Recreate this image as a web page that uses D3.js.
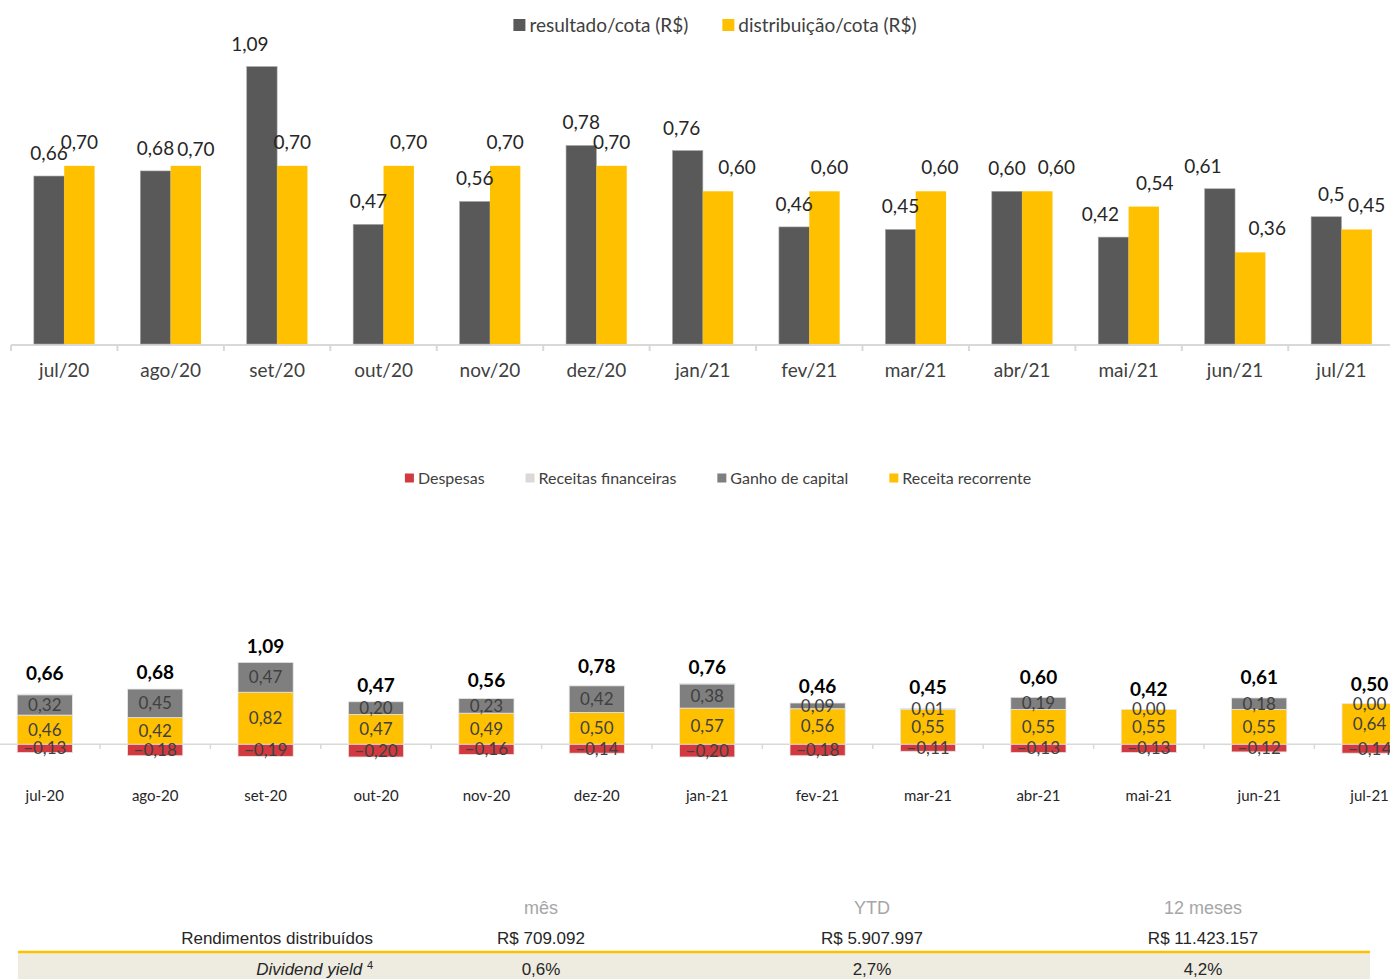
<!DOCTYPE html>
<html>
<head>
<meta charset="utf-8">
<script src="https://cdn.jsdelivr.net/npm/d3@7"></script>
<style>
  body { margin: 0; background: #fff; }
  svg { display: block; }
</style>
</head>
<body>
<svg id="chart" width="1390" height="979"></svg>
<script>
'use strict';

// ---- dados: resultado x distribuicao ----
var meses = ["jul/20", "ago/20", "set/20", "out/20", "nov/20", "dez/20", "jan/21",
             "fev/21", "mar/21", "abr/21", "mai/21", "jun/21", "jul/21"];
var resultadoCota = [0.66, 0.68, 1.09, 0.47, 0.56, 0.78, 0.76, 0.46, 0.45, 0.60, 0.42, 0.61, 0.50];
var resultadoTexto = ["0,66", "0,68", "1,09", "0,47", "0,56", "0,78", "0,76", "0,46", "0,45", "0,60", "0,42", "0,61", "0,5"];
var distribuicaoCota = [0.70, 0.70, 0.70, 0.70, 0.70, 0.70, 0.60, 0.60, 0.60, 0.60, 0.54, 0.36, 0.45];

// ---- dados: composicao do resultado ----
var mesesComp = ["jul-20", "ago-20", "set-20", "out-20", "nov-20", "dez-20", "jan-21",
                 "fev-21", "mar-21", "abr-21", "mai-21", "jun-21", "jul-21"];
var despesas = [-0.13, -0.18, -0.19, -0.20, -0.16, -0.14, -0.20, -0.18, -0.11, -0.13, -0.13, -0.12, -0.14];
var receitasFinanceiras = [0.01, 0, 0, 0, 0, 0, 0.01, 0, 0, 0, 0, 0, 0];
var ganhoCapital = [0.32, 0.45, 0.47, 0.20, 0.23, 0.42, 0.38, 0.09, 0.01, 0.19, 0.00, 0.18, 0.00];
var receitaRecorrente = [0.46, 0.42, 0.82, 0.47, 0.49, 0.50, 0.57, 0.56, 0.55, 0.55, 0.55, 0.55, 0.64];
var totalMes = [0.66, 0.68, 1.09, 0.47, 0.56, 0.78, 0.76, 0.46, 0.45, 0.60, 0.42, 0.61, 0.50];

// ---- tabela ----
var colunasTabela = ["mês", "YTD", "12 meses"];
var rendimentos = ["R$ 709.092", "R$ 5.907.997", "R$ 11.423.157"];
var dividendYield = ["0,6%", "2,7%", "4,2%"];

var svg = d3.select("#chart");
var fmt = function (v) { return d3.format(".2f")(v).replace(".", ","); };
var gill = "Lato, 'Open Sans', sans-serif";

// ================= grafico 1 =================
var x = d3.scaleBand().domain(meses).range([11, 1394.7]).paddingInner(0).paddingOuter(0);
var x1 = d3.scaleBand().domain(["resultado", "distribuicao"])
    .range([0, x.bandwidth()]).paddingInner(0).paddingOuter(0.753);
var y = d3.scaleLinear().domain([0, 1]).range([344, 89.5]);

var cores = { resultado: "#595959", distribuicao: "#FFC000" };

// ajustes manuais dos rotulos (como no original)
var ajusteRes = { 2: -12, 6: -6, 10: -13, 11: -17, 12: 5 };
var ajusteDist = { 1: 10, 3: 10, 6: 19, 7: 5, 8: 9, 9: 19, 10: 11, 11: 17, 12: 10 };

var g1 = svg.append("g");

// eixo
g1.append("line")
    .attr("x1", 11).attr("x2", 1390).attr("y1", 345).attr("y2", 345)
    .attr("stroke", "#d9d9d9").attr("stroke-width", 2);
g1.selectAll("line.tick")
    .data(d3.range(meses.length + 1))
  .enter().append("line")
    .attr("class", "tick")
    .attr("x1", function (i) { return 11 + i * x.step(); })
    .attr("x2", function (i) { return 11 + i * x.step(); })
    .attr("y1", 345).attr("y2", 351)
    .attr("stroke", "#d9d9d9").attr("stroke-width", 2);

var grupos = g1.selectAll("g.mes")
    .data(meses)
  .enter().append("g")
    .attr("class", "mes")
    .attr("transform", function (d) { return "translate(" + x(d) + ",0)"; });

grupos.append("rect")
    .attr("x", x1("resultado"))
    .attr("width", x1.bandwidth())
    .attr("y", function (d, i) { return y(resultadoCota[i]); })
    .attr("height", function (d, i) { return y(0) - y(resultadoCota[i]); })
    .attr("fill", cores.resultado)
    .attr("stroke", "#a6a6a6").attr("stroke-width", 0.6);

grupos.append("rect")
    .attr("x", x1("distribuicao"))
    .attr("width", x1.bandwidth())
    .attr("y", function (d, i) { return y(distribuicaoCota[i]); })
    .attr("height", function (d, i) { return y(0) - y(distribuicaoCota[i]); })
    .attr("fill", cores.distribuicao);

grupos.append("text")
    .attr("x", function (d, i) { return x1("resultado") + x1.bandwidth() / 2 + (ajusteRes[i] || 0); })
    .attr("y", function (d, i) { return y(resultadoCota[i]) - 16; })
    .attr("text-anchor", "middle")
    .style("font-family", gill).style("font-size", "19px").style("fill", "#262626")
    .text(function (d, i) { return resultadoTexto[i]; });

grupos.append("text")
    .attr("x", function (d, i) { return x1("distribuicao") + x1.bandwidth() / 2 + (ajusteDist[i] || 0); })
    .attr("y", function (d, i) { return y(distribuicaoCota[i]) - (i === 1 ? 10 : 17); })
    .attr("text-anchor", "middle")
    .style("font-family", gill).style("font-size", "19px").style("fill", "#262626")
    .text(function (d, i) { return fmt(distribuicaoCota[i]); });

grupos.append("text")
    .attr("x", x.bandwidth() / 2)
    .attr("y", 377)
    .attr("text-anchor", "middle")
    .style("font-family", gill).style("font-size", "19px").style("fill", "#404040")
    .text(function (d) { return d; });

// legenda
function legenda(itens, cx, yy, tam, fonte, gap) {
    var lg = svg.append("g");
    var pos = 0;
    itens.forEach(function (it) {
        var item = lg.append("g").attr("transform", "translate(" + pos + ",0)");
        item.append("rect").attr("x", 0).attr("y", yy - tam / 2).attr("width", tam).attr("height", tam).attr("fill", it.cor);
        var t = item.append("text").attr("x", tam + 4).attr("y", yy).attr("dy", "0.35em")
            .style("font-family", gill).style("font-size", fonte + "px").style("fill", "#404040")
            .text(it.nome);
        pos += tam + 4 + t.node().getComputedTextLength() + gap;
    });
    var w = pos - gap;
    lg.attr("transform", "translate(" + (cx - w / 2) + ",0)");
}
legenda([{ nome: "resultado/cota (R$)", cor: cores.resultado },
         { nome: "distribuição/cota (R$)", cor: cores.distribuicao }], 715, 25, 12, 19, 34);

// ================= grafico 2 =================
var xb = d3.scaleBand().domain(mesesComp).range([-10.4, 1424.8]).paddingInner(0.5).paddingOuter(0.25);
var yb = d3.scaleLinear().domain([0, 1]).range([744.3, 680.8]);

var coresB = {
    despesas: "#D23A3F",
    receitasFinanceiras: "#D9D9D9",
    ganhoCapital: "#7F7F7F",
    receitaRecorrente: "#FFC000"
};
var linhas = mesesComp.map(function (m, i) {
    return {
        mes: m,
        despesas: despesas[i],
        receitasFinanceiras: receitasFinanceiras[i],
        ganhoCapital: ganhoCapital[i],
        receitaRecorrente: receitaRecorrente[i],
        total: totalMes[i]
    };
});
// positivos empilhados; despesas abaixo do zero
var series = d3.stack().keys(["receitaRecorrente", "ganhoCapital", "receitasFinanceiras"])(linhas);
series.push(d3.stack().keys(["despesas"]).offset(d3.stackOffsetDiverging)(linhas)[0]);

var g2 = svg.append("g");
var passo = xb.step();
var x0 = -10.4;

g2.append("line")
    .attr("x1", 0).attr("x2", 1390).attr("y1", 744.3).attr("y2", 744.3)
    .attr("stroke", "#d9d9d9").attr("stroke-width", 1.5);
g2.selectAll("line.tick")
    .data(d3.range(1, mesesComp.length))
  .enter().append("line")
    .attr("x1", function (i) { return x0 + i * passo; })
    .attr("x2", function (i) { return x0 + i * passo; })
    .attr("y1", 744.3).attr("y2", 749)
    .attr("stroke", "#d9d9d9").attr("stroke-width", 1.5);

var camadas = g2.selectAll("g.serie")
    .data(series)
  .enter().append("g")
    .attr("class", "serie")
    .attr("fill", function (s) { return coresB[s.key]; });

camadas.selectAll("rect")
    .data(function (s) { return s.filter(function (d) { return d[1] !== d[0]; }); })
  .enter().append("rect")
    .attr("x", function (d) { return xb(d.data.mes); })
    .attr("width", xb.bandwidth())
    .attr("y", function (d) { return yb(Math.max(d[0], d[1])); })
    .attr("height", function (d) { return Math.abs(yb(d[0]) - yb(d[1])); })
    .attr("stroke", "#e6e6e6").attr("stroke-width", 0.8);

// rotulos internos
series.forEach(function (s) {
    if (s.key === "receitasFinanceiras") return;
    g2.selectAll(null)
        .data(s)
      .enter().append("text")
        .attr("x", function (d) { return xb(d.data.mes) + xb.bandwidth() / 2; })
        .attr("y", function (d) { return (yb(d[0]) + yb(d[1])) / 2; })
        .attr("dy", "0.35em")
        .attr("text-anchor", "middle")
        .style("font-family", gill).style("font-size", "17px").style("fill", "#404040")
        .text(function (d) { return fmt(d.data[s.key]); });
});

// totais
g2.selectAll("text.total")
    .data(linhas)
  .enter().append("text")
    .attr("class", "total")
    .attr("x", function (d) { return xb(d.mes) + xb.bandwidth() / 2; })
    .attr("y", function (d) { return yb(d.total) - 22; })
    .attr("text-anchor", "middle")
    .style("font-family", gill).style("font-size", "19px").style("font-weight", "bold").style("fill", "#000")
    .text(function (d) { return fmt(d.total); });

g2.selectAll("text.mes")
    .data(mesesComp)
  .enter().append("text")
    .attr("x", function (d) { return xb(d) + xb.bandwidth() / 2; })
    .attr("y", 801)
    .attr("text-anchor", "middle")
    .style("font-family", gill).style("font-size", "15px").style("fill", "#262626")
    .text(function (d) { return d; });

legenda([{ nome: "Despesas", cor: coresB.despesas },
         { nome: "Receitas financeiras", cor: coresB.receitasFinanceiras },
         { nome: "Ganho de capital", cor: coresB.ganhoCapital },
         { nome: "Receita recorrente", cor: coresB.receitaRecorrente }], 718, 478, 9, 16, 41);

// ================= tabela =================
var arial = "'Liberation Sans', Arial, sans-serif";
var xc = d3.scalePoint().domain(colunasTabela).range([541, 1203]);

svg.append("rect").attr("x", 18).attr("y", 953).attr("width", 1352).attr("height", 26).attr("fill", "#EEECE1");
svg.append("line").attr("x1", 18).attr("x2", 1370).attr("y1", 952).attr("y2", 952)
    .attr("stroke", "#FFC000").attr("stroke-width", 2.5);

svg.selectAll("text.cab")
    .data(colunasTabela)
  .enter().append("text")
    .attr("x", function (d) { return xc(d); })
    .attr("y", 914)
    .attr("text-anchor", "middle")
    .style("font-family", arial).style("font-size", "18px").style("fill", "#a6a6a6")
    .text(function (d) { return d; });

svg.append("text")
    .attr("x", 373).attr("y", 944)
    .attr("text-anchor", "end")
    .style("font-family", arial).style("font-size", "17px").style("fill", "#262626")
    .text("Rendimentos distribuídos");

svg.selectAll("text.rend")
    .data(rendimentos)
  .enter().append("text")
    .attr("x", function (d, i) { return xc(colunasTabela[i]); })
    .attr("y", 944)
    .attr("text-anchor", "middle")
    .style("font-family", arial).style("font-size", "17px").style("fill", "#262626")
    .text(function (d) { return d; });

var dy = svg.append("text")
    .attr("x", 373).attr("y", 975)
    .attr("text-anchor", "end")
    .style("font-family", arial).style("font-size", "17px").style("fill", "#262626");
dy.append("tspan").style("font-style", "italic").text("Dividend yield ");
dy.append("tspan").attr("dy", -6).style("font-size", "11px").text("4");

svg.selectAll("text.dy")
    .data(dividendYield)
  .enter().append("text")
    .attr("x", function (d, i) { return xc(colunasTabela[i]); })
    .attr("y", 975)
    .attr("text-anchor", "middle")
    .style("font-family", arial).style("font-size", "17px").style("fill", "#262626")
    .text(function (d) { return d; });
</script>
</body>
</html>
